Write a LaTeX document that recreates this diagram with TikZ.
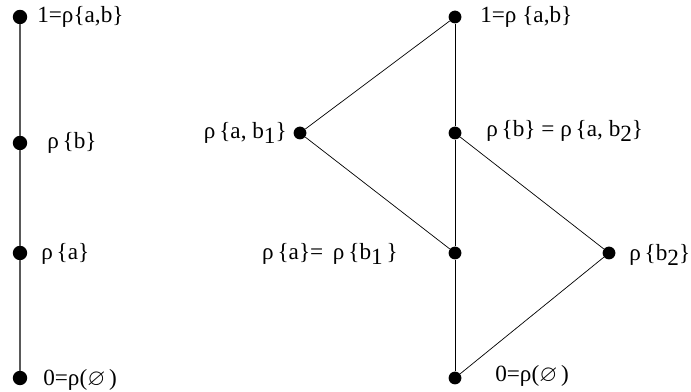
\documentclass[tikz,border=0pt]{standalone}
\usepackage{amssymb}
\usepackage{fontspec}
\setmainfont{Liberation Serif}
\usetikzlibrary{positioning}

\newcommand{\sbl}[1]{\raisebox{-0.55ex}{#1}}

\begin{document}
\begin{tikzpicture}[
    x=0.025cm, y=-0.025cm,
    dot/.style={circle, fill=black, inner sep=0pt, minimum size=0.36cm},
    sdot/.style={circle, fill=black, inner sep=0pt, minimum size=0.32cm},
    lab/.style={font=\fontsize{16.5}{18}\selectfont, inner sep=0pt},
    edge/.style={draw, line width=0.5pt},
    chain/.style={draw, gray!70!black, line width=1.2pt},
  ]
    \useasboundingbox (0,0) rectangle (691,392);

    % left chain
    \node[dot] (top) at (20,17) {};
    \node[dot] (b) at (20,143) {};
    \node[dot] (a) at (20,253) {};
    \node[dot] (bot) at (20,378) {};
    \draw[chain] (top) -- (b) -- (a) -- (bot);

    \node[lab, anchor=west] (ltop) at (37,17) {1=ρ\{a,b\}};
    \node[lab, anchor=west] (lb) at (47,143) {ρ\,\{b\}};
    \node[lab, anchor=west] (la) at (41,254) {ρ\,\{a\}};
    \node[lab, anchor=west] (lbot) at (43,380) {0=ρ($\varnothing$\,)};

    % right lattice
    \node[sdot] (rtop) at (455,17) {};
    \node[sdot] (rab1) at (300,133) {};
    \node[sdot] (rb) at (455,133) {};
    \node[sdot] (ra) at (455,253) {};
    \node[sdot] (rb2) at (609,253) {};
    \node[sdot] (rbot) at (455,378) {};
    \draw[edge] (rtop) -- (rab1) -- (ra);
    \draw[edge] (rtop) -- (rb) -- (ra) -- (rbot);
    \draw[edge] (rb) -- (rb2) -- (rbot);

    \node[lab, anchor=west] (lrtop) at (480,17) {1=ρ \{a,b\}};
    \node[lab, anchor=east] (lrab1) at (287,133) {ρ\,\{a, b\sbl{1}\}};
    \node[lab, anchor=west] (lrb) at (486,131) {ρ\,\{b\} = ρ\,\{a, b\sbl{2}\}};
    \node[lab, anchor=east] (lra) at (398,254) {ρ\,\{a\}=\, ρ\,\{b\sbl{1}\,\}};
    \node[lab, anchor=west] (lrb2) at (629,255) {ρ\,\{b\sbl{2}\}};
    \node[lab, anchor=west] (lrbot) at (495,376) {0=ρ($\varnothing$\,)};
  \end{tikzpicture}
\end{document}
